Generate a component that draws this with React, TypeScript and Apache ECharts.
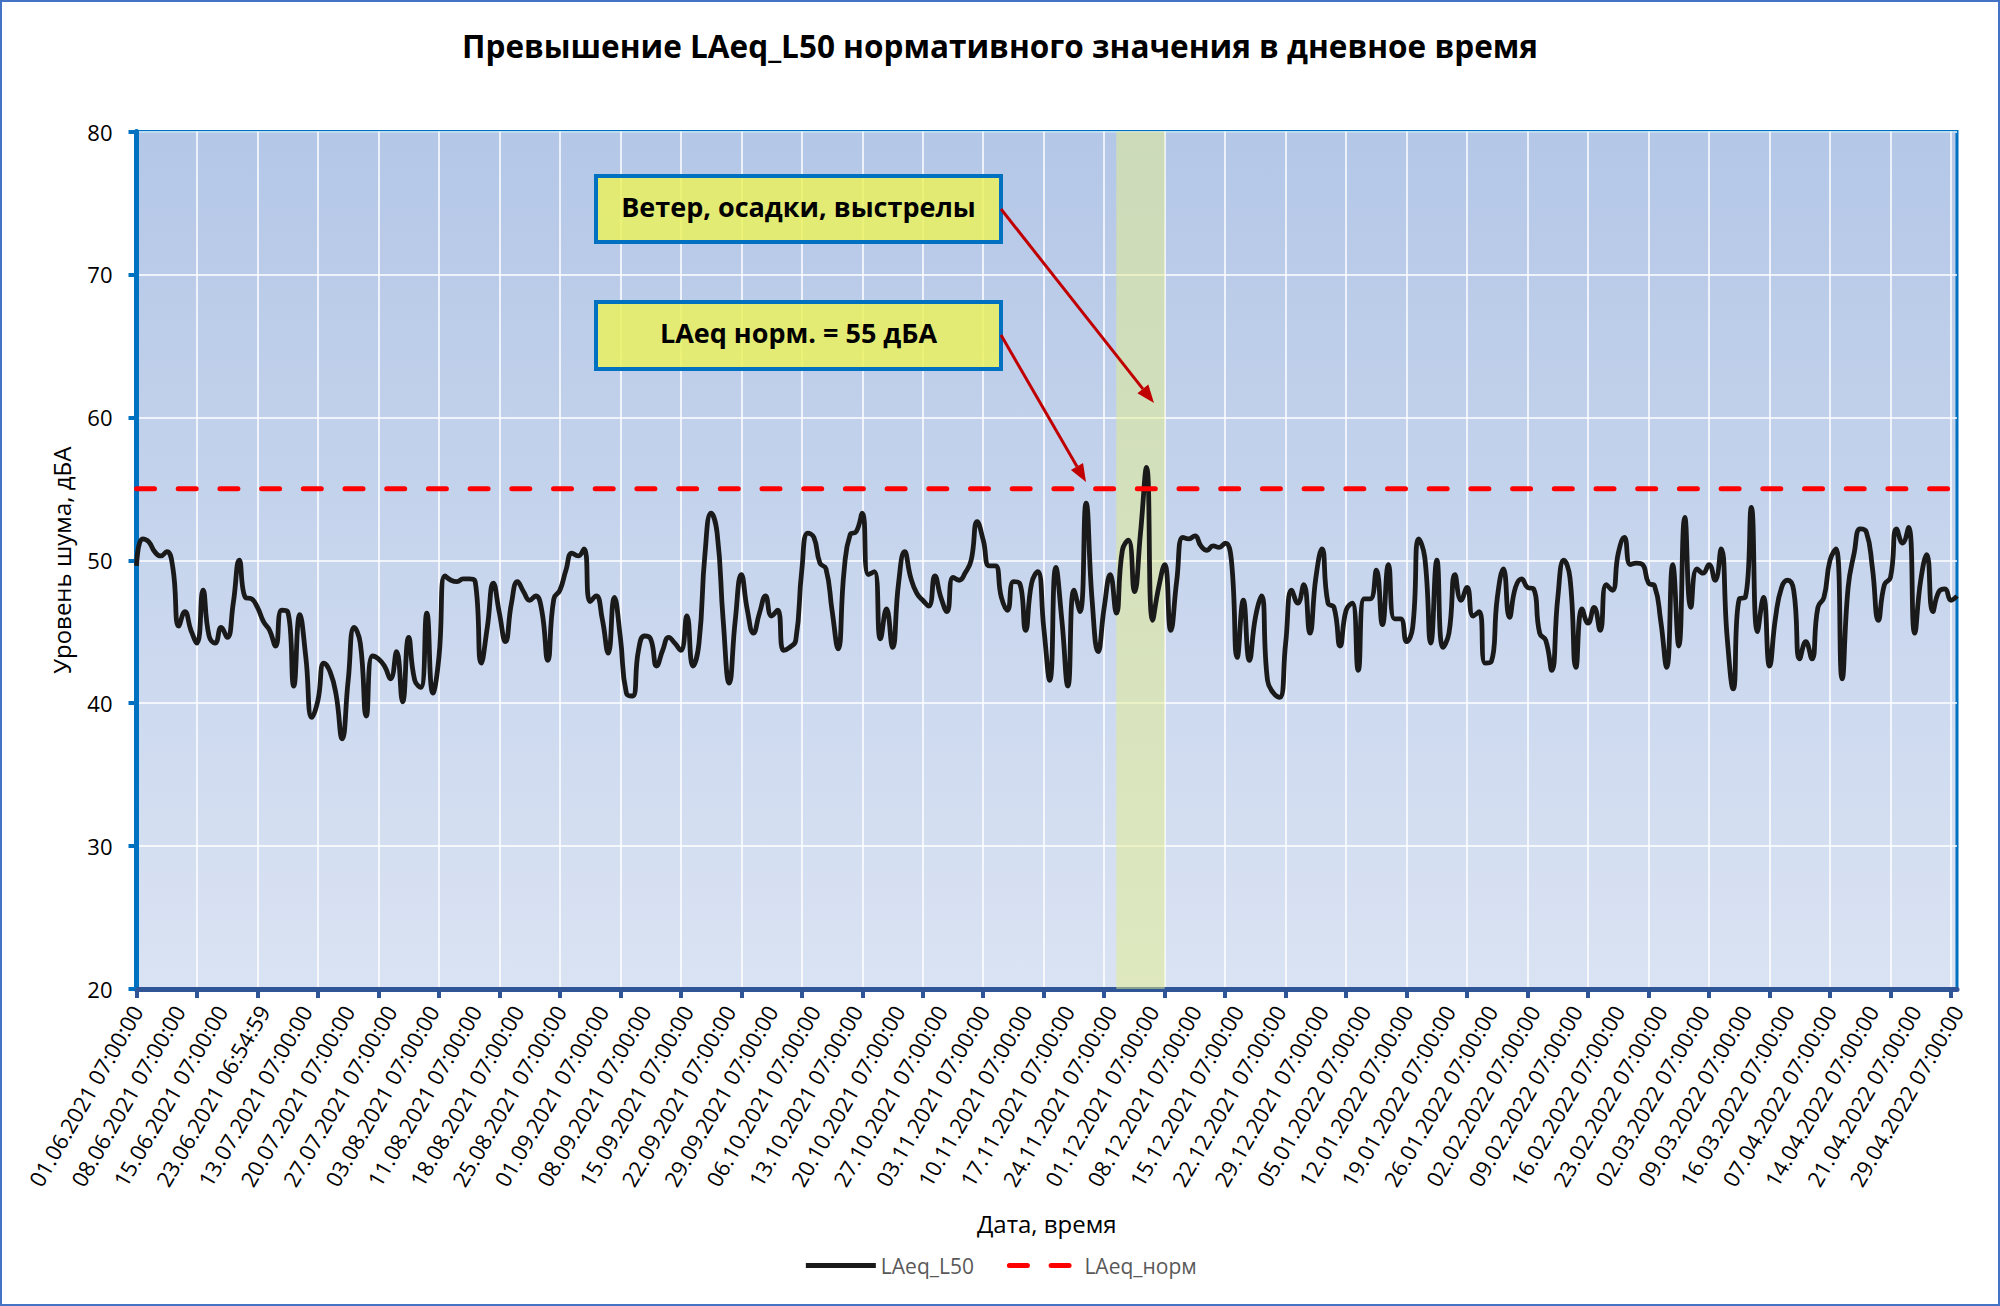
import React, { useEffect, useRef } from "react";
import * as echarts from "echarts";

const TITLE = "Превышение LAeq_L50 нормативного значения в дневное время";
const X_NAME = "Дата, время";
const Y_NAME = "Уровень шума, дБА";
const SERIES_MAIN = "LAeq_L50";
const SERIES_NORM = "LAeq_норм";
const NORM_VALUE = 55;
const NOTE_WIND = "Ветер, осадки, выстрелы";
const NOTE_NORM = "LAeq норм. = 55 дБА";

const tickLabels = [
  "01.06.2021 07:00:00", "08.06.2021 07:00:00", "15.06.2021 07:00:00", "23.06.2021 06:54:59",
  "13.07.2021 07:00:00", "20.07.2021 07:00:00", "27.07.2021 07:00:00", "03.08.2021 07:00:00",
  "11.08.2021 07:00:00", "18.08.2021 07:00:00", "25.08.2021 07:00:00", "01.09.2021 07:00:00",
  "08.09.2021 07:00:00", "15.09.2021 07:00:00", "22.09.2021 07:00:00", "29.09.2021 07:00:00",
  "06.10.2021 07:00:00", "13.10.2021 07:00:00", "20.10.2021 07:00:00", "27.10.2021 07:00:00",
  "03.11.2021 07:00:00", "10.11.2021 07:00:00", "17.11.2021 07:00:00", "24.11.2021 07:00:00",
  "01.12.2021 07:00:00", "08.12.2021 07:00:00", "15.12.2021 07:00:00", "22.12.2021 07:00:00",
  "29.12.2021 07:00:00", "05.01.2022 07:00:00", "12.01.2022 07:00:00", "19.01.2022 07:00:00",
  "26.01.2022 07:00:00", "02.02.2022 07:00:00", "09.02.2022 07:00:00", "16.02.2022 07:00:00",
  "23.02.2022 07:00:00", "02.03.2022 07:00:00", "09.03.2022 07:00:00", "16.03.2022 07:00:00",
  "07.04.2022 07:00:00", "14.04.2022 07:00:00", "21.04.2022 07:00:00", "29.04.2022 07:00:00",
];

// LAeq_L50, daily values (dBA)
const laeqJunJul = [
  49.6, 51.5, 51.3, 50.6, 50.3, 50.6, 49.5, 45.4, 46.4, 45.1,
  44.2, 47.9, 44.7, 44.2, 45.3, 44.6, 47.0, 50.0, 47.4, 47.3,
  46.7, 45.7, 45.1, 44.0, 46.5, 46.4, 41.2, 46.2, 43.2, 39.0,
  40.2, 42.8, 42.2, 40.6, 37.5, 41.6, 45.3, 44.2, 39.1, 43.3,
  43.1, 42.6, 41.7, 43.6, 40.1, 44.6, 41.6, 41.1, 46.3, 40.7,
];
const laeqAugSep = [
  43.2, 48.9, 48.6, 48.5, 48.7, 48.7, 48.5, 42.8, 45.3, 48.4,
  46.3, 44.3, 47.0, 48.5, 47.8, 47.2, 47.5, 46.5, 43.0, 47.3,
  47.9, 49.3, 50.5, 50.3, 50.8, 47.1, 47.5, 45.9, 43.5, 47.4,
  44.6, 40.7, 40.5, 43.7, 44.7, 44.5, 42.6, 43.7, 44.6, 44.2,
  43.7, 46.1, 42.6, 44.2, 50.5, 53.3, 51.9, 45.8, 41.4, 45.8,
];
const laeqOctNov = [
  49.0, 46.5, 44.9, 46.3, 47.5, 46.1, 46.5, 43.7, 43.9, 44.4,
  49.3, 51.9, 51.6, 49.8, 49.4, 46.5, 43.8, 49.3, 51.8, 52.0,
  53.3, 49.0, 49.2, 44.5, 46.6, 43.9, 48.4, 50.6, 48.8, 47.7,
  47.2, 46.8, 48.9, 47.4, 46.4, 48.8, 48.6, 49.1, 50.0, 52.7,
  51.4, 49.6, 49.6, 47.4, 46.5, 48.5, 48.4, 45.1, 48.4, 49.2,
];
const laeqDecJan = [
  45.3, 41.6, 49.5, 45.8, 41.2, 47.9, 46.4, 54.0, 47.2, 43.6,
  46.7, 49.0, 46.3, 50.7, 51.4, 47.8, 51.9, 56.5, 45.8, 48.1,
  49.7, 45.1, 48.6, 51.6, 51.5, 51.7, 51.0, 50.7, 51.0, 50.9,
  51.2, 50.1, 43.2, 47.2, 43.0, 46.0, 47.5, 41.6, 40.7, 40.4,
  44.2, 47.9, 47.0, 48.3, 44.9, 48.8, 50.8, 47.0, 46.7, 44.0,
];
const laeqFebMar = [
  46.5, 47.0, 42.3, 47.3, 47.3, 49.3, 45.5, 49.7, 45.9, 45.9,
  44.3, 45.3, 51.5, 50.2, 44.2, 50.0, 43.9, 44.9, 49.0, 47.2,
  48.1, 46.1, 46.4, 42.8, 42.9, 47.4, 49.4, 46.0, 48.1, 48.7,
  48.1, 48.0, 44.9, 44.4, 42.3, 47.4, 50.0, 48.8, 42.5, 46.6,
  45.6, 46.7, 45.1, 48.3, 47.9, 50.5, 51.6, 49.7, 49.8, 49.7,
];
const laeqMarApr = [
  48.4, 48.2, 45.8, 42.5, 49.7, 44.0, 53.0, 46.7, 49.4, 49.1,
  49.7, 48.6, 50.8, 44.6, 41.0, 47.3, 47.4, 53.7, 45.0, 47.4,
  42.6, 46.0, 48.1, 48.6, 47.9, 43.1, 44.3, 43.1, 46.7, 47.4,
  50.0, 50.8, 41.7, 48.1, 50.5, 52.2, 52.0, 49.5, 45.8, 48.3,
  48.8, 52.2, 51.2, 52.3, 44.9, 48.6, 50.4, 46.4, 47.8, 48.0,
  47.2, 47.5,
];

// highlighted period (wind, precipitation, shots): first and last day index
const bandStartIndex = 162;
const bandEndIndex = 170;

const laeqValues = [
  ...laeqJunJul, ...laeqAugSep, ...laeqOctNov, ...laeqDecJan, ...laeqFebMar, ...laeqMarApr,
];

function shiftDate(label: string, days: number): string {
  const [dd, mm, yyyy] = label.slice(0, 10).split(".").map(Number);
  const dt = new Date(Date.UTC(yyyy, mm - 1, dd + days));
  const p = (n: number) => String(n).padStart(2, "0");
  return `${p(dt.getUTCDate())}.${p(dt.getUTCMonth() + 1)}.${dt.getUTCFullYear()} 07:00:00`;
}

const categories = laeqValues.map((_, i) =>
  i % 7 === 0 ? tickLabels[i / 7] : shiftDate(tickLabels[Math.floor(i / 7)], i % 7)
);
const normValues = laeqValues.map(() => NORM_VALUE);

const FONT = "'Open Sans', 'Noto Sans', sans-serif";

function arrow(x1: number, y1: number, x2: number, y2: number, color: string) {
  const a = Math.atan2(y2 - y1, x2 - x1);
  const len = 18;
  const half = 7;
  const bx = x2 - len * Math.cos(a);
  const by = y2 - len * Math.sin(a);
  const px = -Math.sin(a) * half;
  const py = Math.cos(a) * half;
  return [
    {
      type: "line",
      shape: { x1, y1, x2: bx, y2: by },
      style: { stroke: color, lineWidth: 3 },
      z: 20,
    },
    {
      type: "polygon",
      shape: { points: [[x2, y2], [bx + px, by + py], [bx - px, by - py]] },
      style: { fill: color },
      z: 20,
    },
  ];
}

function noteBox(x: number, y: number, w: number, h: number, text: string) {
  return [
    {
      type: "rect",
      shape: { x, y, width: w, height: h },
      style: { fill: "rgba(236,242,90,0.82)", stroke: "#0070c0", lineWidth: 4 },
      z: 20,
    },
    {
      type: "text",
      x: x + w / 2,
      y: y + h / 2 - 3,
      style: {
        text,
        fill: "#000",
        font: `bold 27px ${FONT}`,
        align: "center",
        verticalAlign: "middle",
      },
      z: 21,
    },
  ];
}

export default function App() {
  const ref = useRef<HTMLDivElement>(null);

  useEffect(() => {
    if (!ref.current) return;
    const chart = echarts.init(ref.current, null, { renderer: "svg" });

    const option: any = {
      animation: false,
      backgroundColor: "#ffffff",
      textStyle: { fontFamily: FONT },
      title: {
        text: TITLE,
        left: "center",
        top: 24,
        textStyle: { fontFamily: FONT, fontSize: 31.5, fontWeight: "bold", color: "#000" },
      },
      legend: {
        data: [SERIES_MAIN, SERIES_NORM],
        left: "center",
        top: 1250,
        itemWidth: 70,
        itemHeight: 14,
        itemGap: 33,
        itemStyle: { opacity: 0 },
        lineStyle: { width: 5 },
        textStyle: { fontFamily: FONT, fontSize: 21, color: "#595959" },
      },
      grid: {
        left: 136.5,
        right: 43,
        top: 131.5,
        bottom: 317,
        show: true,
        borderColor: "#0070c0",
        borderWidth: 3,
        backgroundColor: new echarts.graphic.LinearGradient(0, 0, 0, 1, [
          { offset: 0, color: "#b4c7e7" },
          { offset: 1, color: "#dae3f3" },
        ]),
      },
      xAxis: {
        type: "category",
        data: categories,
        boundaryGap: false,
        name: X_NAME,
        nameLocation: "middle",
        nameGap: 222,
        nameTextStyle: { fontFamily: FONT, fontSize: 24, color: "#000" },
        axisLine: { show: true, lineStyle: { color: "#2f5597", width: 5 } },
        axisTick: { show: true, interval: 9, length: 9, lineStyle: { color: "#2f5597", width: 4 } },
        axisLabel: {
          interval: 6,
          rotate: 60,
          margin: 18,
          fontFamily: FONT,
          fontSize: 22,
          color: "#000",
        },
        splitLine: { show: true, interval: 9, lineStyle: { color: "#ffffff", width: 1.5 } },
      },
      yAxis: {
        type: "value",
        min: 20,
        max: 80,
        interval: 10,
        name: Y_NAME,
        nameLocation: "middle",
        nameGap: 63,
        nameTextStyle: { fontFamily: FONT, fontSize: 24, color: "#000" },
        axisLine: { show: true, lineStyle: { color: "#0070c0", width: 5 } },
        axisTick: { show: true, length: 8, lineStyle: { color: "#0070c0", width: 4 } },
        axisLabel: { margin: 24, fontFamily: FONT, fontSize: 22, color: "#000" },
        splitLine: { show: true, lineStyle: { color: "#ffffff", width: 1.5 } },
      },
      series: [
        {
          name: SERIES_MAIN,
          type: "line",
          data: laeqValues,
          smooth: 0.5,
          symbol: "none",
          lineStyle: { color: "#1a1a1a", width: 4.8 },
          itemStyle: { color: "#1a1a1a" },
          z: 3,
        },
        {
          name: SERIES_NORM,
          type: "line",
          data: normValues,
          symbol: "none",
          lineStyle: { color: "#ff0000", width: 5, type: [18, 23.7], cap: "round" },
          itemStyle: { color: "#ff0000" },
          z: 4,
        },
        {
          name: "band",
          type: "line",
          data: [],
          symbol: "none",
          z: 6,
          markArea: {
            silent: true,
            itemStyle: { color: "rgba(228,238,140,0.5)" },
            data: [[{ xAxis: categories[bandStartIndex] }, { xAxis: categories[bandEndIndex] }]],
          },
        },
      ],
      graphic: [
        {
          type: "rect",
          shape: { x: 1, y: 1, width: 1998, height: 1304 },
          style: { fill: "none", stroke: "#4472c4", lineWidth: 2 },
          z: 30,
          silent: true,
        },
        ...noteBox(596, 176, 405, 66, NOTE_WIND),
        ...noteBox(596, 302, 405, 67, NOTE_NORM),
        ...arrow(1001, 209, 1154, 403, "#c00000"),
        ...arrow(1001, 335, 1086, 482, "#c00000"),
      ],
    };

    chart.setOption(option);
    return () => chart.dispose();
  }, []);

  return (
    <div
      ref={ref}
      style={{ position: "fixed", left: 0, top: 0, width: 2000, height: 1306, background: "#fff" }}
    />
  );
}
